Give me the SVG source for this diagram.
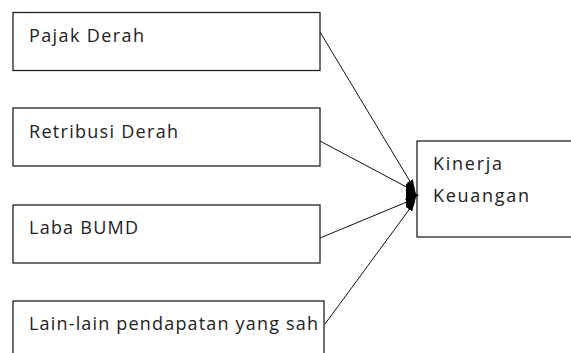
<svg xmlns="http://www.w3.org/2000/svg" width="571" height="353" viewBox="0 0 571 353">
<style>
.box{fill:#fff;stroke:#222;stroke-width:1.3}
.t{font-family:"Open Sans","Liberation Sans",sans-serif;font-size:18px;fill:#222}
.c{fill:none;stroke:#111;stroke-width:1}
</style>
<defs>
<marker id="ah" viewBox="0 0 10 10" refX="9" refY="5" markerWidth="9" markerHeight="9" markerUnits="userSpaceOnUse" orient="auto">
<path d="M0,1 L10,5 L0,9 z" fill="#000"/>
</marker>
</defs>
<rect width="571" height="353" fill="#fff"/>
<g id="pajak">
<rect class="box" x="13" y="12.5" width="307" height="58"/>
<text class="t" x="29" y="42" textLength="115" lengthAdjust="spacing">Pajak Derah</text>
</g>
<g id="retribusi">
<rect class="box" x="13" y="108" width="307" height="58"/>
<text class="t" x="29" y="137.5" textLength="149" lengthAdjust="spacing">Retribusi Derah</text>
</g>
<g id="laba">
<rect class="box" x="13" y="205" width="307" height="58"/>
<text class="t" x="29" y="234" textLength="109" lengthAdjust="spacing">Laba BUMD</text>
</g>
<g id="lain">
<rect class="box" x="13" y="301" width="311" height="70"/>
<text class="t" x="29" y="330" textLength="289" lengthAdjust="spacing">Lain-lain pendapatan yang sah</text>
</g>
<g id="kinerja">
<rect class="box" x="417" y="141" width="170" height="96"/>
<text class="t" x="433" y="170" textLength="69" lengthAdjust="spacing">Kinerja</text>
<text class="t" x="433" y="202" textLength="96" lengthAdjust="spacing">Keuangan</text>
</g>
<g id="connectors">
<path class="c" d="M320,32 L414,188" marker-end="url(#ah)"/>
<path class="c" d="M320,141 L414,191" marker-end="url(#ah)"/>
<path class="c" d="M320,238 L414,199" marker-end="url(#ah)"/>
<path class="c" d="M325,324 L414,203" marker-end="url(#ah)"/>
<path d="M406,184 Q412,181 414,186 L416,194 L419,195 L416,197 L414,205 Q412,209 406,207 Z" fill="#000"/>
</g>
</svg>
